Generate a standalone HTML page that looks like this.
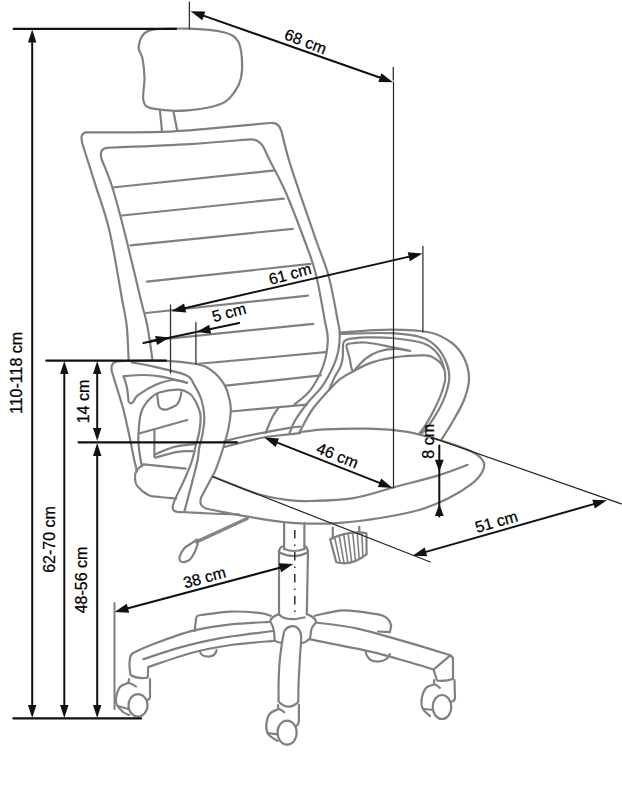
<!DOCTYPE html>
<html><head><meta charset="utf-8"><style>
html,body{margin:0;padding:0;background:#fff;}
svg{display:block;font-family:"Liberation Sans",sans-serif;}
</style></head><body>
<svg width="622" height="800" viewBox="0 0 622 800" stroke-linecap="round">
<path d="M149,30.6C157.2,27.7 175.4,28.4 188,28.7C200.6,29 216.2,30.4 224.5,32.5C232.8,34.6 235.1,36.9 238,41.2C240.9,45.6 241.4,52.5 241.9,58.6C242.4,64.7 242.1,72.6 241,77.9C239.9,83.2 238.7,86.2 235.5,90.5C232.3,94.8 229.9,100.2 222,103.5C214.1,106.8 199.5,109.4 188,110.3C176.5,111.2 160.6,110.2 153.2,108.7C145.8,107.2 144.9,106.1 143.5,101C142.1,95.9 144.7,85 144.5,77.9C144.3,70.8 143.5,63.9 142.5,58.6C141.5,53.3 137.6,50.7 138.7,46C139.8,41.3 140.8,33.5 149,30.6Z" stroke="#808080" stroke-width="2.2" fill="none"/>
<line x1="160" y1="111" x2="162" y2="131.5" stroke="#808080" stroke-width="2.2"/>
<line x1="173.4" y1="111" x2="177.3" y2="131" stroke="#808080" stroke-width="2.2"/>
<path d="M128.6,359.5C128.3,353.9 127.8,335.6 126.7,325.7C125.6,315.8 125.1,315.8 122.2,300C119.3,284.2 114,250.4 109.5,231C105,211.6 99.5,198.2 95,183.7C90.5,169.2 84.6,150.6 82.5,144Q79.5,133 86,132.3C98.7,132.2 141.1,132.5 162,131.8C182.9,131.1 193.5,129.8 211.5,128.3C229.5,126.8 260.2,123.9 270,123Q279,122 281.5,131.5C282.7,136.2 286,150.3 288.9,160C291.8,169.7 294.1,176.3 298.6,189.6C303.1,202.9 311,225.6 316,240C321,254.4 325,262.7 328.6,276C332.2,289.3 335.7,310 337.6,320C339.5,330 340,329.6 339.8,336C339.6,342.4 339,350.6 336.3,358.6C333.6,366.7 328.2,377 323.5,384.3C318.8,391.6 312.7,396.3 308,402.3C303.3,408.3 298.3,415.2 295.2,420.3C292.1,425.4 290.4,431.1 289.5,433.2" stroke="#808080" stroke-width="2.2" fill="none" stroke-linejoin="round"/>
<path d="M152.4,359.5C151.6,353.9 149.2,335.6 147.3,325.7C145.4,315.8 144.5,314.9 140.9,300C137.3,285.1 130.2,254.8 125.5,236C120.8,217.2 116.4,200.3 112.4,187.5C108.4,174.7 103.3,163.8 101.5,159Q99,148.5 107,147.8C120.8,147.2 166.2,145.5 190,144.1C213.8,142.7 240,140.1 250,139.3Q259,139 264,148C264.9,150 266,152.6 269.6,160C273.2,167.4 279.9,178.9 285.7,192.2C291.5,205.5 299.4,226.5 304.4,240C309.4,253.5 312.3,260.1 315.7,273.4C319.1,286.7 322.7,308.9 324.7,320C326.7,331.1 328,332.5 327.8,340C327.6,347.5 326.3,356.8 323.5,365C320.7,373.2 315.9,382.7 311,389.3C306.1,395.9 297.2,402.1 294.4,404.6" stroke="#808080" stroke-width="2.2" fill="none" stroke-linejoin="round"/>
<path d="M278.6,407.4C277.5,409.2 274,413.9 271.9,418.1C269.8,422.3 266.7,430.4 265.7,432.8" stroke="#808080" stroke-width="2.2" fill="none"/>
<line x1="112.4" y1="187.5" x2="274.9" y2="170.4" stroke="#808080" stroke-width="2.2"/>
<line x1="122" y1="215.5" x2="283.8" y2="198.6" stroke="#808080" stroke-width="2.2"/>
<line x1="130.5" y1="245.4" x2="292.8" y2="228.8" stroke="#808080" stroke-width="2.2"/>
<line x1="146.9" y1="281.7" x2="310.6" y2="263.8" stroke="#808080" stroke-width="2.2"/>
<line x1="146" y1="313" x2="308" y2="295.6" stroke="#808080" stroke-width="2.2"/>
<line x1="152" y1="340.3" x2="313.2" y2="323.9" stroke="#808080" stroke-width="2.2"/>
<line x1="196" y1="364" x2="326" y2="352.2" stroke="#808080" stroke-width="2.2"/>
<line x1="225.7" y1="385.6" x2="320.9" y2="375.3" stroke="#808080" stroke-width="2.2"/>
<line x1="231" y1="411.5" x2="306.8" y2="404.6" stroke="#808080" stroke-width="2.2"/>
<path d="M339.5,332.5C348.1,332 376.3,329.6 391.4,329.6C406.5,329.6 419.9,330.3 430,332.5C440.1,334.7 446.2,338.6 452,343C457.8,347.4 461.7,353 464.5,359C467.3,365 469.1,372.2 469,379C468.9,385.8 466.7,393 464,400C461.3,407 456.8,414.3 453,421C449.2,427.7 443.2,437 441.2,440.2" stroke="#808080" stroke-width="2.2" fill="none"/>
<path d="M340,333.8C348.6,333.7 377.5,332.5 391.4,333.2C405.3,333.9 415.4,335.4 423.2,338C431,340.6 434.1,344.3 438,348.5C441.9,352.7 444.6,358.1 446.5,363C448.4,367.9 449.5,372.7 449.3,378C449.1,383.3 447.3,389.7 445.5,395C443.7,400.3 441.5,404.8 438.6,410C435.7,415.2 431.3,421.9 428.3,426C425.3,430.1 421.9,433 420.6,434.4" stroke="#808080" stroke-width="2.2" fill="none"/>
<path d="M329,390C329.9,387.8 332.9,380.7 334.7,377C336.5,373.3 338.7,370.7 340,367.6C341.3,364.5 342.1,362.4 342.6,358.6C343.1,354.8 342.9,347.3 343,345Q343,339.5 350,338.8C352.6,338.6 358.8,337.5 365.7,337.4C372.6,337.3 381.8,337 391.4,338C401,339 415.6,340.7 423.2,343.2C430.8,345.7 433.6,349.2 437,353C440.4,356.8 442.1,361.8 443.5,366C444.9,370.2 445.6,373.5 445.3,378C445,382.5 443.3,387.8 441.5,393C439.7,398.2 437.1,403.7 434.5,409C431.9,414.3 428.2,420.6 425.7,424.7C423.2,428.8 420.4,432.2 419.3,433.7" stroke="#808080" stroke-width="2.2" fill="none" stroke-linejoin="round"/>
<path d="M349.5,343.6C352.2,343.4 358.7,341.9 365.7,342.5C372.7,343.1 384,345.6 391.4,347C398.8,348.4 407,350.2 410.1,350.9C407.4,350.6 399.2,348.8 394,348.9C388.8,349 383.3,349.9 378.6,351.5C373.9,353.1 369.9,355.3 365.7,358.6C361.5,361.9 355.5,369.3 353.5,371.4Q351.5,370 351,366C350.7,364.3 349.8,359.2 349,356C348.2,352.8 346.9,348.5 346.5,347Q346,343.8 349.5,343.6" stroke="#808080" stroke-width="2.2" fill="none" stroke-linejoin="round"/>
<path d="M299.5,432.2C301.6,428.5 307.1,417 312,410C316.9,403 324.3,395.1 329,390C333.7,384.9 336,382.3 340,379.2C344,376.1 347.5,374.2 352.9,371.4C358.3,368.6 365.3,364.8 372.2,362.4C379.1,360 385.1,358.5 394,357.3C402.9,356.1 418.7,355.1 425.7,355.4C432.7,355.7 433.4,357.8 436,359.2C438.6,360.6 439.9,362.1 441.2,363.7C442.5,365.3 443.5,368.1 444,369" stroke="#808080" stroke-width="2.2" fill="none"/>
<path d="M137,471.5C136.5,469.2 135.1,464 133.8,458C132.5,452 131.2,444.1 129.3,435.5C127.4,426.9 125.3,416.5 122.5,406.3C119.7,396.1 114.3,379.6 112.7,374.3Q108.5,363 118,361.2C125,361.1 147,360.1 160,360.6C173,361.1 187.4,362.4 196,364C204.6,365.6 206.7,367 211.4,370.4C216.1,373.8 221.3,379.7 224.3,384.6C227.3,389.5 228.5,395.6 229.6,400C230.7,404.4 231,406.6 230.8,411.3C230.6,416 229.7,422.3 228.5,428.1C227.3,433.9 225.8,439.3 223.7,446.2C221.6,453.1 217.9,464 215.8,469.3C213.8,474.6 213.8,473.3 211.4,478C209,482.7 202.9,494.1 201.2,497.3Q197.5,507.5 210,509.5C218.9,511.1 248.7,517 263.7,519.3C278.7,521.6 287.3,522.7 300,523.3C312.7,523.9 326.7,523.7 340,522.8C353.3,521.9 366.7,520.2 380,518C393.3,515.8 408.5,513 420,509.7C431.5,506.4 440.2,502.4 448.9,498.1C457.6,493.8 466.4,488 472,483.7C477.6,479.4 480.3,475.7 482.2,472.1C484.1,468.5 485.3,465.4 483.6,462C481.9,458.6 479.2,455.4 472,451.8C464.8,448.2 451.3,443.7 440.2,440.3C429.1,436.9 417.6,433.5 405.5,431.6C393.4,429.7 381.3,429.1 367.9,428.7C354.5,428.3 336.4,428.8 325,429.4C313.6,430 303.8,431.7 299.5,432.2" stroke="#808080" stroke-width="2.2" fill="none" stroke-linejoin="round"/>
<path d="M131.9,362.5C135.8,363.2 146,364.8 155,366.9C164,369 179.3,372.3 185.7,375C192.1,377.7 190.8,379.1 193.4,383.3C196,387.5 199.7,394.4 201.5,400C203.3,405.6 204.1,411.3 204.3,416.9C204.5,422.5 203.4,428.7 202.6,433.8C201.8,438.9 200.2,442.8 199.3,447.3C198.5,451.8 198.7,455 197.5,460.8C196.3,466.6 194.4,473.5 192.2,481.9C190,490.3 185.7,506.5 184.4,511.4" stroke="#808080" stroke-width="2.2" fill="none"/>
<path d="M141.8,466.3C141.3,463.4 139.6,454.2 139,449C138.4,443.8 138.1,441 138.4,435C138.7,429 139.3,418.7 141,412.9C142.7,407.1 145.5,403.4 148.7,400C151.9,396.6 155.2,394 160.3,392.3C165.4,390.6 174.4,389.5 179.3,389.7C184.2,389.9 187,391.9 189.6,393.6C192.2,395.3 193,396.5 194.8,400C196.6,403.5 199.7,409.4 200.4,414.6C201.2,419.9 200.1,426.4 199.3,431.5C198.6,436.6 197.1,440.2 195.9,445C194.7,449.8 193.9,454.7 192.2,460C190.5,465.3 188.5,470.3 185.7,476.7C182.9,483.1 177.5,493.8 175.4,498.6C173.3,503.4 173.3,504.2 172.9,505.3Q171.5,512.5 180,512C185,512.2 200.2,513.1 210,513.5C219.8,513.9 233.8,514.2 238.6,514.3" stroke="#808080" stroke-width="2.2" fill="none" stroke-linejoin="round"/>
<path d="M123.6,376.2C126.9,376 137,374.9 143.6,375C150.2,375.1 155.7,375.6 162.9,376.9C170.1,378.2 183,381.7 187,382.7" stroke="#808080" stroke-width="2.2" fill="none" stroke-linejoin="round"/>
<path d="M123.6,376.2C124.1,378 126.1,383.1 126.9,387.2C127.7,391.3 128.2,398.7 128.5,401Q130,405.5 133.5,401.5C134.3,400.4 134.6,397.7 138.4,394.9C142.2,392.1 150.7,387.1 156.4,384.6C162.2,382.1 167.8,380.3 172.9,380C178,379.7 184.7,382.2 187,382.7" stroke="#808080" stroke-width="2.2" fill="none" stroke-linejoin="round"/>
<path d="M157.1,393.6L158.5,405Q160,410.5 167,409.5C168.7,408.7 174.8,406.6 177,404.5C179.2,402.4 179.8,399 180.5,397C181.2,395 181.2,393.1 181.3,392.3" stroke="#808080" stroke-width="2.2" fill="none" stroke-linejoin="round"/>
<line x1="139" y1="433.5" x2="187.2" y2="420" stroke="#808080" stroke-width="2.2"/>
<line x1="154.4" y1="429.6" x2="154.4" y2="456.7" stroke="#808080" stroke-width="2.2"/>
<path d="M154.4,454.7C157.6,453.4 166.9,448.8 173.7,447C180.5,445.2 191.7,444.4 195.3,443.9" stroke="#808080" stroke-width="2.2" fill="none"/>
<path d="M155.3,457.6C159,456.6 171.3,452.9 177.5,451.8C183.7,450.7 190,451.3 192.5,451.2" stroke="#808080" stroke-width="2.2" fill="none"/>
<path d="M143.8,464.4Q134,470 135,478C135.3,479.3 134.7,482.7 137,485.6C139.3,488.5 144.8,493.3 148.6,495.2C152.4,497.1 155.4,496.4 160,497C164.6,497.6 173.3,498.3 176,498.6" stroke="#808080" stroke-width="2.2" fill="none" stroke-linejoin="round"/>
<line x1="143.8" y1="464.4" x2="185.7" y2="468.6" stroke="#808080" stroke-width="2.2"/>
<path d="M224.5,441.1C228.1,440.2 235.6,438.2 246.2,436C256.8,433.8 279.1,429.7 288.1,428.1C297.1,426.5 298,426.9 300,426.6" stroke="#808080" stroke-width="2.2" fill="none"/>
<path d="M224.5,446.9C231,445.3 250.9,439.8 263.5,437.5C276.1,435.2 293.9,433.9 300,433.2" stroke="#808080" stroke-width="2.2" fill="none"/>
<path d="M213,476.5C220.5,479.4 245.6,490.1 257.9,494C270.2,497.9 278.1,498.6 286.8,499.8C295.5,501 298.9,501.3 310,501C321.1,500.7 338.9,500.5 353.4,498.1C367.9,495.7 382.5,490.3 396.8,486.5C411.1,482.7 427.5,478.7 439.3,475.1C451.1,471.5 463,466.5 467.7,464.8" stroke="#808080" stroke-width="2.2" fill="none"/>
<line x1="247.2" y1="518.5" x2="196.5" y2="541.9" stroke="#858585" stroke-width="3.4"/>
<path d="M197,539.6C196.2,540.1 194.3,541.3 192.2,542.8C190,544.3 186.2,546.1 184.1,548.4C182,550.7 180.3,555.1 179.6,556.5Q178.5,562.5 184,562.2C185,561.8 188.2,561.3 190,559.5C191.8,557.7 193.8,554.1 195,551.6C196.2,549.1 197.1,545.6 197.5,544.4Q198,540.5 197,539.6" stroke="#808080" stroke-width="2.2" fill="none" stroke-linejoin="round"/>
<line x1="284.1" y1="523" x2="284.1" y2="549" stroke="#808080" stroke-width="2.2"/>
<line x1="304.4" y1="523" x2="304.4" y2="549" stroke="#808080" stroke-width="2.2"/>
<path d="M279,552Q279.5,546.5 284.1,546" stroke="#808080" stroke-width="2.2" fill="none" stroke-linejoin="round"/>
<path d="M307.9,552Q307.5,546.5 304.4,546" stroke="#808080" stroke-width="2.2" fill="none" stroke-linejoin="round"/>
<path d="M284.1,549Q294.2,553 304.4,549" stroke="#808080" stroke-width="2.2" fill="none" stroke-linejoin="round"/>
<path d="M279.2,552.5Q294.2,559.5 307.7,552.5" stroke="#808080" stroke-width="2.2" fill="none" stroke-linejoin="round"/>
<line x1="294.8" y1="530" x2="294.8" y2="613" stroke="#222" stroke-width="1.4" stroke-linecap="butt" stroke-dasharray="8.5 6 1.5 6"/>
<path d="M330.1,539.2Q348,530.5 366.4,533L366.6,554.2Q352,566.5 336.3,562.2Z" stroke="#808080" stroke-width="2.2" fill="none" stroke-linejoin="round"/>
<line x1="334.6" y1="537.2" x2="340.2" y2="563" stroke="#808080" stroke-width="1.6"/>
<line x1="339.1" y1="535.5" x2="344.1" y2="563.3" stroke="#808080" stroke-width="1.6"/>
<line x1="343.6" y1="534.2" x2="347.9" y2="563.1" stroke="#808080" stroke-width="1.6"/>
<line x1="348.1" y1="533.3" x2="351.7" y2="562.4" stroke="#808080" stroke-width="1.6"/>
<line x1="352.7" y1="532.7" x2="355.5" y2="561.1" stroke="#808080" stroke-width="1.6"/>
<line x1="357.2" y1="532.5" x2="359.2" y2="559.3" stroke="#808080" stroke-width="1.6"/>
<line x1="361.8" y1="532.5" x2="362.9" y2="557" stroke="#808080" stroke-width="1.6"/>
<line x1="332.8" y1="527.7" x2="332.8" y2="538.5" stroke="#808080" stroke-width="2.2"/>
<line x1="359.3" y1="526.8" x2="359.3" y2="533.5" stroke="#808080" stroke-width="2.2"/>
<line x1="279" y1="551" x2="279" y2="614.6" stroke="#808080" stroke-width="2.2"/>
<line x1="308" y1="551" x2="306.8" y2="614.1" stroke="#808080" stroke-width="2.2"/>
<path d="M279.2,614.6C280.1,615.2 281.8,617.2 284.3,618C286.8,618.8 291,619.2 294.4,619.1C297.8,619 302.8,617.7 304.5,617.4" stroke="#808080" stroke-width="2.2" fill="none"/>
<path d="M278.6,614.1Q271,617 270.2,621.4C270.8,622.7 272.9,626.1 273.6,629.3C274.4,632.5 274.5,638.6 274.7,640.5Q277,642.5 282,642.8" stroke="#808080" stroke-width="2.2" fill="none" stroke-linejoin="round"/>
<path d="M306.8,614.1Q315,617 316.3,622C315.6,623 312.8,625.4 311.8,628.1C310.8,630.8 310.4,636.6 310.1,638.3Q306,642.5 302,643" stroke="#808080" stroke-width="2.2" fill="none" stroke-linejoin="round"/>
<path d="M282,642.8C282.5,640.7 283.3,633.1 284.8,630.4C286.3,627.7 288.8,626.8 291,626.4C293.2,626 296.1,626.5 297.8,628.1C299.5,629.7 300.7,631.3 301.1,636C301.5,640.7 300.4,648.5 300,656.3C299.6,664 298.9,674.9 298.6,682.5C298.3,690.1 298.4,698.5 298.3,701.7Q289,711.5 278.6,701.7C278.6,698.5 278.4,689.5 278.6,682.5C278.8,675.5 279.2,666.6 279.8,660C280.4,653.4 281.6,645.7 282,642.8" stroke="#808080" stroke-width="2.2" fill="#fff" stroke-linejoin="round"/>
<path d="M269.3,621.9C262.9,622.3 243.7,622.9 230.8,624.4C218,625.9 205.5,627.5 192.2,630.9C178.9,634.3 160.7,641.4 151,645C141.3,648.6 136.8,651.2 134,652.5Q130.5,654 130,658C129.9,659.3 129.4,663.2 129.5,666C129.6,668.8 130.3,673.5 130.5,675Q138,679.5 147.8,677.5L148.2,667C155.5,664.6 178.4,656.4 192.2,652.7C206,649 217.1,647 230.8,645C244.6,643 267.4,641.5 274.7,640.8" stroke="#808080" stroke-width="2.2" fill="none" stroke-linejoin="round"/>
<path d="M143.3,659.2C149.3,657.3 166.9,651 179.3,647.6C191.7,644.2 202.3,641.4 217.9,638.6C233.5,635.8 263.8,632.3 273,631" stroke="#808080" stroke-width="2.2" fill="none"/>
<path d="M194.7,630.9L196,619Q196.5,615.2 200.5,615C205.6,614.4 221.1,612 230.8,611.6C240.6,611.2 252.3,612.2 259,612.9C265.7,613.6 268.8,615.3 270.8,615.8" stroke="#808080" stroke-width="2.2" fill="none" stroke-linejoin="round"/>
<path d="M199.9,651.4Q201,656.8 208.9,656.6Q215.5,656 216.6,650.2" stroke="#808080" stroke-width="2.2" fill="none" stroke-linejoin="round"/>
<path d="M316.3,622.5C323,623.5 341.1,625 356.4,628.3C371.7,631.6 392.2,637.9 407.9,642.4C423.5,646.9 443.2,653.1 450.3,655.3Q453,656.5 453,660L453,679Q445,681.5 437,680.5L433.6,669.5C429.3,668.2 418.6,664.7 407.9,661.7C397.2,658.7 385.6,655.1 369.3,651.4C353,647.7 320,641.4 310.1,639.4" stroke="#808080" stroke-width="2.2" fill="none" stroke-linejoin="round"/>
<line x1="433.6" y1="669.5" x2="450.3" y2="655.3" stroke="#808080" stroke-width="2.2"/>
<path d="M314.6,615.8C319.4,614.9 333.2,610.6 343.6,610.3C354,610 371.4,613.5 377,614.1Q389.5,616 391.2,625.7L389.9,632.2L378,631.5" stroke="#808080" stroke-width="2.2" fill="none" stroke-linejoin="round"/>
<path d="M365.5,651.4Q367.5,661.7 377,661.7Q388,661 389.9,654" stroke="#808080" stroke-width="2.2" fill="none" stroke-linejoin="round"/>
<path d="M129,679L128.5,683Q133,684 136,686.5" stroke="#808080" stroke-width="2.2" fill="none" stroke-linejoin="round"/>
<path d="M150,679L150,696Q150,699.5 147.5,700" stroke="#808080" stroke-width="2.2" fill="none" stroke-linejoin="round"/>
<path d="M128,683C126.7,683.7 122,684.5 120,687C118,689.5 116.5,695 116,698C115.5,701 115.8,702.7 117,705C118.2,707.3 121,710.3 123,712C125,713.7 128,714.5 129,715" stroke="#808080" stroke-width="2.2" fill="none" stroke-linejoin="round"/>
<line x1="118" y1="706" x2="128" y2="709" stroke="#808080" stroke-width="2.2"/>
<ellipse cx="138" cy="705.3" rx="9.5" ry="11.2" stroke="#808080" stroke-width="2.2" fill="#fff"/>
<path d="M434,680L434,684Q438,685.5 440,688" stroke="#808080" stroke-width="2.2" fill="none" stroke-linejoin="round"/>
<path d="M454.5,680L455,698Q454.5,701 452,701.5" stroke="#808080" stroke-width="2.2" fill="none" stroke-linejoin="round"/>
<path d="M434,684.5C432.7,685.1 428.1,685.4 426,688C423.9,690.6 422,696.5 421.5,700C421,703.5 421.6,706.3 423,709C424.4,711.7 428.8,714.8 430,716" stroke="#808080" stroke-width="2.2" fill="none" stroke-linejoin="round"/>
<line x1="424" y1="709" x2="433.5" y2="710" stroke="#808080" stroke-width="2.2"/>
<ellipse cx="442" cy="707" rx="9.3" ry="12" stroke="#808080" stroke-width="2.2" fill="#fff"/>
<path d="M278.1,705L278.1,708.4Q282,710 284.3,712.3" stroke="#808080" stroke-width="2.2" fill="none" stroke-linejoin="round"/>
<path d="M298.9,704.5L298.9,720.8Q298.5,725 296.1,725.9" stroke="#808080" stroke-width="2.2" fill="none" stroke-linejoin="round"/>
<path d="M277.5,709.5C276.2,710.2 271.5,711.4 269.6,714C267.7,716.6 266.5,721.9 266.3,725.3C266.1,728.7 266.6,731.7 268.5,734.3C270.4,736.9 276,739.9 277.5,741" stroke="#808080" stroke-width="2.2" fill="none" stroke-linejoin="round"/>
<line x1="267.4" y1="733.2" x2="277.5" y2="734.3" stroke="#808080" stroke-width="2.2"/>
<ellipse cx="287.1" cy="732.6" rx="9.6" ry="12" stroke="#808080" stroke-width="2.2" fill="#fff"/>
<line x1="13.7" y1="28.9" x2="176" y2="28.9" stroke="#111" stroke-width="2.2"/>
<line x1="189.4" y1="2" x2="189.4" y2="29" stroke="#333" stroke-width="1.3"/>
<line x1="201.2" y1="14.9" x2="382.5" y2="78.5" stroke="#111" stroke-width="2"/><path d="M190.6,11.2 L205.3,11.5 L202.3,20.2Z" fill="#111"/><path d="M393.1,82.2 L378.4,81.9 L381.4,73.2Z" fill="#111"/>
<line x1="393.3" y1="67.5" x2="393.3" y2="80" stroke="#333" stroke-width="1.3"/>
<line x1="393.5" y1="82" x2="393.5" y2="488" stroke="#222" stroke-width="1.2"/>
<text x="0" y="0" font-size="16" fill="#000" stroke="#000" stroke-width="0.25" text-anchor="middle" dominant-baseline="central" transform="translate(305.5 41.5) rotate(21) scale(1.0 1)">68 cm</text>
<line x1="32.2" y1="39.9" x2="32.2" y2="707.6" stroke="#111" stroke-width="2"/><path d="M32.2,29.5 L36.4,42.5 L28,42.5Z" fill="#111"/><path d="M32.2,718 L28,705 L36.4,705Z" fill="#111"/>
<text x="0" y="0" font-size="16" fill="#000" stroke="#000" stroke-width="0.25" text-anchor="middle" dominant-baseline="central" transform="translate(16.5 373) rotate(-90) scale(1.0 1)">110-118 cm</text>
<line x1="46.3" y1="360.6" x2="166" y2="360.6" stroke="#111" stroke-width="2.2"/>
<line x1="78.5" y1="442.3" x2="237" y2="442.3" stroke="#111" stroke-width="2.2"/>
<line x1="13.4" y1="718.4" x2="141" y2="718.4" stroke="#111" stroke-width="2.2"/>
<line x1="64.3" y1="371.4" x2="64.3" y2="707.6" stroke="#111" stroke-width="2"/><path d="M64.3,361 L68.5,374 L60.1,374Z" fill="#111"/><path d="M64.3,718 L60.1,705 L68.5,705Z" fill="#111"/>
<text x="0" y="0" font-size="16" fill="#000" stroke="#000" stroke-width="0.25" text-anchor="middle" dominant-baseline="central" transform="translate(49 539.5) rotate(-90) scale(1.0 1)">62-70 cm</text>
<line x1="97.2" y1="371.4" x2="97.2" y2="430.6" stroke="#111" stroke-width="2"/><path d="M97.2,361 L101.4,374 L93,374Z" fill="#111"/><path d="M97.2,441 L93,428 L101.4,428Z" fill="#111"/>
<text x="0" y="0" font-size="16" fill="#000" stroke="#000" stroke-width="0.25" text-anchor="middle" dominant-baseline="central" transform="translate(83 401.5) rotate(-90) scale(1.0 1)">14 cm</text>
<line x1="97.2" y1="453.4" x2="97.2" y2="707.6" stroke="#111" stroke-width="2"/><path d="M97.2,443 L101.4,456 L93,456Z" fill="#111"/><path d="M97.2,718 L93,705 L101.4,705Z" fill="#111"/>
<text x="0" y="0" font-size="16" fill="#000" stroke="#000" stroke-width="0.25" text-anchor="middle" dominant-baseline="central" transform="translate(81.8 580) rotate(-90) scale(1.0 1)">48-56 cm</text>
<line x1="182.4" y1="308.7" x2="411.5" y2="256.1" stroke="#111" stroke-width="2"/><path d="M171.5,311.2 L184.1,303.6 L186.2,312.6Z" fill="#111"/><path d="M422.4,253.6 L409.8,261.2 L407.7,252.2Z" fill="#111"/>
<line x1="170.5" y1="305" x2="170.5" y2="373" stroke="#333" stroke-width="1.3"/>
<line x1="422.9" y1="246.4" x2="422.9" y2="332" stroke="#333" stroke-width="1.3"/>
<text x="0" y="0" font-size="16" fill="#000" stroke="#000" stroke-width="0.25" text-anchor="middle" dominant-baseline="central" transform="translate(290 274) rotate(-15) scale(1.0 1)">61 cm</text>
<line x1="150" y1="341.7" x2="239.2" y2="323" stroke="#111" stroke-width="2"/>
<path d="M169.8,337.6 L157,345 L155.2,336Z" fill="#111"/>
<path d="M196.5,332.1 L209.2,324.7 L211.2,333.7Z" fill="#111"/>
<line x1="143.4" y1="343.1" x2="160" y2="339.6" stroke="#111" stroke-width="2"/>
<line x1="195.9" y1="322.6" x2="195.9" y2="364" stroke="#333" stroke-width="1.3"/>
<text x="0" y="0" font-size="16" fill="#000" stroke="#000" stroke-width="0.25" text-anchor="middle" dominant-baseline="central" transform="translate(229 312.5) rotate(-15) scale(1.0 1)">5 cm</text>
<line x1="274.7" y1="441.6" x2="382.1" y2="483.9" stroke="#111" stroke-width="2"/><path d="M264.3,437.5 L279,438.4 L275.6,446.9Z" fill="#111"/><path d="M392.5,488 L377.8,487.1 L381.2,478.6Z" fill="#111"/>
<text x="0" y="0" font-size="16" fill="#000" stroke="#000" stroke-width="0.25" text-anchor="middle" dominant-baseline="central" transform="translate(337.5 455.5) rotate(22) scale(1.0 1)">46 cm</text>
<line x1="439.3" y1="445.6" x2="439.3" y2="516.5" stroke="#111" stroke-width="2"/>
<path d="M439.3,471.8 L434.9,459.8 L443.7,459.8Z" fill="#111"/>
<path d="M439.3,504 L443.7,516 L434.9,516Z" fill="#111"/>
<text x="0" y="0" font-size="16" fill="#000" stroke="#000" stroke-width="0.25" text-anchor="middle" dominant-baseline="central" transform="translate(428.5 441.3) rotate(-90) scale(1.0 1)">8 cm</text>
<line x1="212.5" y1="476.7" x2="430.3" y2="562" stroke="#222" stroke-width="1.2"/>
<line x1="431.5" y1="437.4" x2="621.3" y2="503.9" stroke="#222" stroke-width="1.2"/>
<line x1="423.3" y1="552.6" x2="596.2" y2="503.4" stroke="#111" stroke-width="2"/><path d="M412.5,555.7 L424.7,547.4 L427.2,556.3Z" fill="#111"/><path d="M607,500.3 L594.8,508.6 L592.3,499.7Z" fill="#111"/>
<text x="0" y="0" font-size="16" fill="#000" stroke="#000" stroke-width="0.25" text-anchor="middle" dominant-baseline="central" transform="translate(496.4 521.7) rotate(-16) scale(1.0 1)">51 cm</text>
<line x1="125.3" y1="609" x2="282.6" y2="567" stroke="#111" stroke-width="2"/><path d="M114.5,611.9 L126.8,603.8 L129.2,612.7Z" fill="#111"/><path d="M293.4,564.1 L281.1,572.2 L278.7,563.3Z" fill="#111"/>
<line x1="114.5" y1="602.9" x2="114.5" y2="709" stroke="#808080" stroke-width="2"/>
<text x="0" y="0" font-size="16" fill="#000" stroke="#000" stroke-width="0.25" text-anchor="middle" dominant-baseline="central" transform="translate(204.5 577.5) rotate(-15) scale(1.0 1)">38 cm</text>
</svg>
</body></html>
